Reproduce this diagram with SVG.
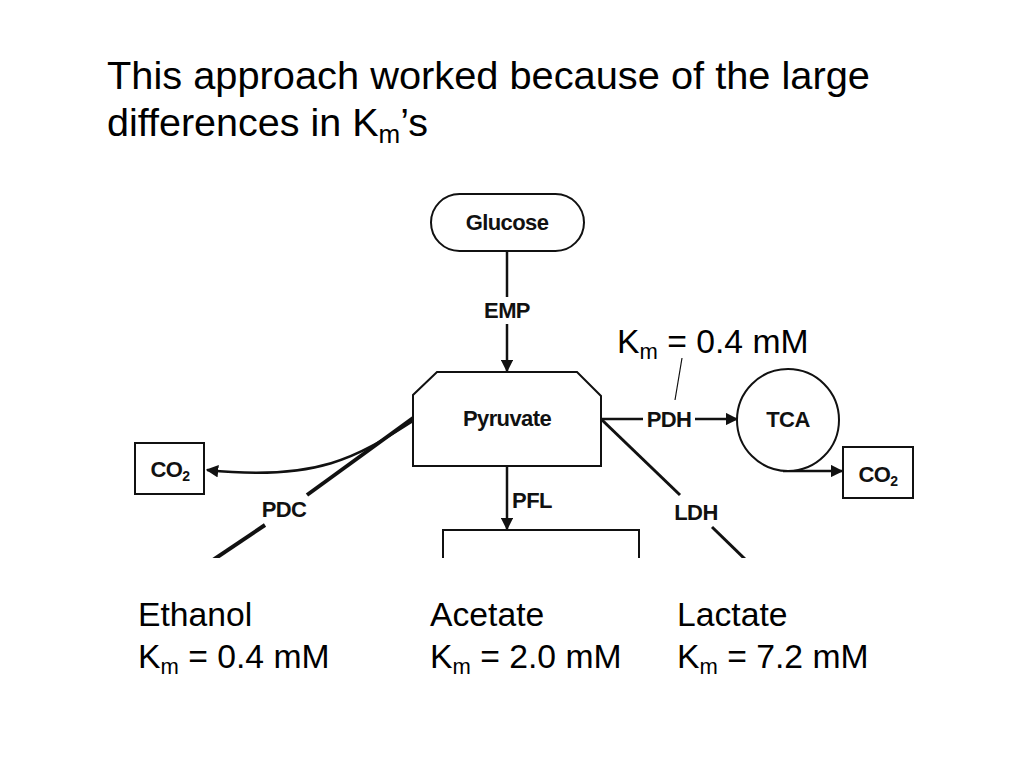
<svg xmlns="http://www.w3.org/2000/svg" width="1024" height="768" viewBox="0 0 1024 768">
<defs>
<style>
.t{font-family:"Liberation Sans",Arial,sans-serif;fill:#000}
.b{font-family:"Liberation Sans",Arial,sans-serif;font-weight:bold;font-size:22px;letter-spacing:-0.6px;fill:#111;text-anchor:middle}
.box{fill:#fff;stroke:#111;stroke-width:2}
.ln{fill:none;stroke:#111;stroke-width:2.5}
</style>
<marker id="ah" viewBox="0 0 10 10" refX="9" refY="5" markerWidth="5" markerHeight="5" orient="auto" markerUnits="strokeWidth">
<path d="M0,0 L10,5 L0,10 z" fill="#111"/>
</marker>
<clipPath id="cp"><rect x="0" y="0" width="1024" height="558"/></clipPath>
</defs>
<rect width="1024" height="768" fill="#fff"/>

<g id="title">
<text class="t" x="107" y="89" font-size="38" textLength="763" lengthAdjust="spacingAndGlyphs">This approach worked because of the large</text>
<text class="t" x="107" y="136" font-size="39.5">differences in K<tspan font-size="26" dy="7">m</tspan><tspan dy="-7">’s</tspan></text>
</g>

<g id="connectors" clip-path="url(#cp)">
<line class="ln" x1="507" y1="251" x2="507" y2="297"/>
<line class="ln" x1="507" y1="324" x2="507" y2="371" marker-end="url(#ah)"/>
<line class="ln" x1="507" y1="466" x2="507" y2="529" marker-end="url(#ah)"/>
<line class="ln" x1="601" y1="419" x2="643" y2="419"/>
<line class="ln" x1="695" y1="419" x2="737" y2="419" marker-end="url(#ah)"/>
<path class="ln" d="M783,471 L842,471" marker-end="url(#ah)"/>
<line stroke="#111" stroke-width="4" x1="413" y1="418" x2="307" y2="495"/>
<line stroke="#111" stroke-width="4" x1="265" y1="525" x2="210" y2="562"/>
<path class="ln" stroke-width="3" d="M413,421 C360,455 320,482 207,470" marker-end="url(#ah)"/>
<line stroke="#111" stroke-width="3" x1="601" y1="419" x2="680" y2="495"/>
<line stroke="#111" stroke-width="3" x1="712" y1="527" x2="748" y2="562"/>
<line stroke="#111" stroke-width="1.2" x1="682" y1="358" x2="675" y2="400"/>
</g>

<g id="glucose">
<rect class="box" x="431" y="194" width="153" height="57" rx="28.5"/>
<text class="b" x="507" y="230">Glucose</text>
</g>
<g id="emp"><text class="b" x="507" y="318">EMP</text></g>
<g id="pyruvate">
<polygon class="box" points="437,372 577,372 601,396 601,466 413,466 413,395"/>
<text class="b" x="507" y="426">Pyruvate</text>
</g>
<g id="pfl"><text class="b" x="532" y="508">PFL</text></g>
<g id="pdc"><text class="b" x="284" y="517" font-size="23">PDC</text></g>
<g id="pdh"><text class="b" x="669" y="427">PDH</text></g>
<g id="ldh"><text class="b" x="696" y="520">LDH</text></g>
<g id="tca">
<circle class="box" cx="788" cy="420" r="51"/>
<text class="b" x="788" y="427">TCA</text>
</g>
<g id="co2-left">
<rect class="box" x="135" y="443" width="69" height="51"/>
<text class="b" x="170" y="477">CO<tspan font-size="14" dy="4">2</tspan></text>
</g>
<g id="co2-right">
<rect class="box" x="843" y="447" width="70" height="51"/>
<text class="b" x="878" y="482">CO<tspan font-size="14" dy="4">2</tspan></text>
</g>
<g id="product-box" clip-path="url(#cp)">
<polyline fill="none" stroke="#111" stroke-width="2" points="443,562 443,530 639,530 639,562"/>
</g>

<g id="km-pdh">
<text class="t" x="617" y="353" font-size="33.7">K<tspan font-size="22" dy="6">m</tspan><tspan dy="-6"> = 0.4 mM</tspan></text>
</g>

<g id="ethanol">
<text class="t" x="138" y="626" font-size="33.7">Ethanol</text>
<text class="t" x="138" y="668" font-size="33.7">K<tspan font-size="22" dy="6">m</tspan><tspan dy="-6"> = 0.4 mM</tspan></text>
</g>
<g id="acetate">
<text class="t" x="430" y="626" font-size="33.7">Acetate</text>
<text class="t" x="430" y="668" font-size="33.7">K<tspan font-size="22" dy="6">m</tspan><tspan dy="-6"> = 2.0 mM</tspan></text>
</g>
<g id="lactate">
<text class="t" x="677" y="626" font-size="33.7">Lactate</text>
<text class="t" x="677" y="668" font-size="33.7">K<tspan font-size="22" dy="6">m</tspan><tspan dy="-6"> = 7.2 mM</tspan></text>
</g>
</svg>
